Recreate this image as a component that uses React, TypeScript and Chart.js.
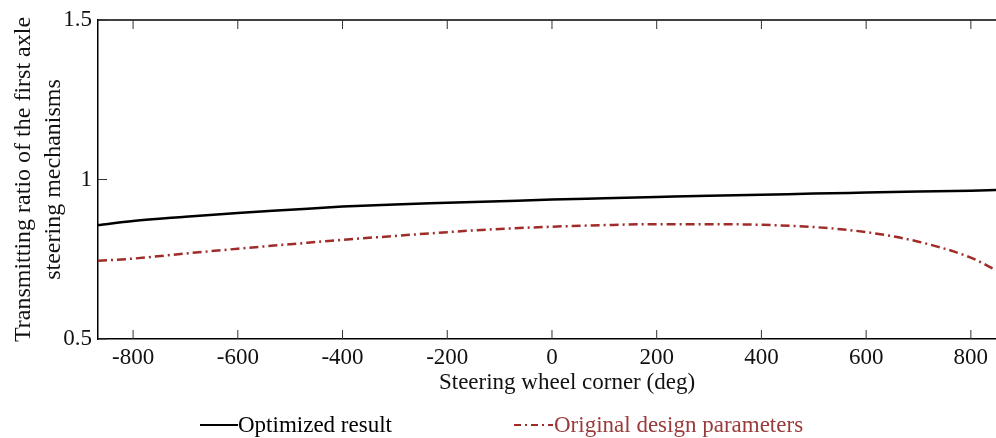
import React, { useEffect, useRef } from "react";
import { Chart, registerables } from "chart.js";

Chart.register(...registerables);

const xValues = [-867, -800, -700, -600, -500, -400, -300, -200, -100, 0, 100, 200, 300, 400, 500, 600, 700, 800, 848];
const optimized = [0.857, 0.87, 0.883, 0.895, 0.905, 0.915, 0.922, 0.927, 0.932, 0.937, 0.941, 0.945, 0.949, 0.952, 0.956, 0.959, 0.962, 0.965, 0.967];
const original = [0.745, 0.752, 0.768, 0.783, 0.797, 0.811, 0.823, 0.835, 0.845, 0.852, 0.857, 0.86, 0.86, 0.858, 0.851, 0.835, 0.805, 0.755, 0.716];
const xTicks = [-800, -600, -400, -200, 0, 200, 400, 600, 800];
const yTicks = [0.5, 1, 1.5];
const legendLabels = ["Optimized result", "Original design parameters"];
const xTitle = "Steering wheel corner (deg)";
const yTitle = ["Transmitting ratio of the first axle", "steering mechanisms"];

const FONT = '"Liberation Serif", "Times New Roman", serif';
const RED = "#a02c2a";

export default function App() {
  const ref = useRef<HTMLCanvasElement | null>(null);
  useEffect(() => {
    const canvas = ref.current!;
    const frame = {
      id: "frame",
      afterDraw(chart: any) {
        const { ctx, chartArea: a, scales } = chart;
        ctx.save();
        ctx.strokeStyle = "#000";
        ctx.lineWidth = 1.5;
        ctx.beginPath();
        ctx.moveTo(a.left, a.top);
        ctx.lineTo(a.right, a.top);
        ctx.stroke();
        ctx.lineWidth = 1;
        ctx.strokeStyle = "#333";
        for (const t of xTicks) {
          const x = scales.x.getPixelForValue(t);
          ctx.beginPath();
          ctx.moveTo(x, a.bottom);
          ctx.lineTo(x, a.bottom - 9);
          ctx.moveTo(x, a.top);
          ctx.lineTo(x, a.top + 9);
          ctx.stroke();
        }
        for (const t of yTicks) {
          const y = scales.y.getPixelForValue(t);
          ctx.beginPath();
          ctx.moveTo(a.left, y);
          ctx.lineTo(a.left + 9, y);
          ctx.stroke();
        }
        // x title
        ctx.font = `23px ${FONT}`;
        ctx.textBaseline = "middle";
        ctx.textAlign = "center";
        ctx.fillStyle = "#111";
        ctx.fillText(xTitle, 567, 383);
        // legend
        const ly = 425;
        ctx.textAlign = "left";
        ctx.strokeStyle = "#000";
        ctx.lineWidth = 2;
        ctx.setLineDash([]);
        ctx.beginPath();
        ctx.moveTo(200, ly);
        ctx.lineTo(238, ly);
        ctx.stroke();
        ctx.fillStyle = "#000";
        ctx.fillText(legendLabels[0], 238, ly + 1);
        ctx.strokeStyle = RED;
        ctx.setLineDash([7, 4, 2, 4]);
        ctx.beginPath();
        ctx.moveTo(514, ly);
        ctx.lineTo(553, ly);
        ctx.stroke();
        ctx.setLineDash([]);
        ctx.fillStyle = "#9a3a3a";
        ctx.fillText(legendLabels[1], 554, ly + 1);
        ctx.restore();
      },
    };
    const chart = new Chart(canvas, {
      type: "line",
      data: {
        datasets: [
          {
            label: legendLabels[0],
            data: xValues.map((x, i) => ({ x, y: optimized[i] })),
            borderColor: "#000",
            borderWidth: 2.5,
            pointRadius: 0,
            tension: 0.4,
            cubicInterpolationMode: "monotone",
          },
          {
            label: legendLabels[1],
            data: xValues.map((x, i) => ({ x, y: original[i] })),
            borderColor: RED,
            borderWidth: 2.5,
            borderDash: [9, 4, 2, 4],
            pointRadius: 0,
            tension: 0.4,
            cubicInterpolationMode: "monotone",
          },
        ],
      },
      options: {
        animation: false,
        responsive: false,
        maintainAspectRatio: false,
        layout: { padding: { top: 20, right: 0, left: 0, bottom: 41 } },
        plugins: { legend: { display: false }, tooltip: { enabled: false } },
        scales: {
          x: {
            type: "linear",
            min: -867,
            max: 848,
            afterBuildTicks: (s: any) => {
              s.ticks = xTicks.map((v) => ({ value: v }));
            },
            afterFit: (s: any) => {
              s.height = 58;
            },
            grid: { drawOnChartArea: false, drawTicks: false },
            border: { display: true, color: "#000", width: 1.5 },
            ticks: { color: "#111", font: { family: FONT, size: 23 }, padding: 5, maxRotation: 0 },
            title: { display: false },
          },
          y: {
            type: "linear",
            min: 0.5,
            max: 1.5,
            afterBuildTicks: (s: any) => {
              s.ticks = yTicks.map((v) => ({ value: v }));
            },
            afterFit: (s: any) => {
              s.width = 98;
            },
            grid: { drawOnChartArea: false, drawTicks: false },
            border: { display: true, color: "#000", width: 1.5 },
            ticks: {
              color: "#111",
              font: { family: FONT, size: 23 },
              padding: 6,
              callback: (v: any) => String(v),
            },
            title: {
              display: true,
              text: yTitle,
              color: "#111",
              font: { family: FONT, size: 24, lineHeight: 1.25 },
              padding: { top: 9, bottom: 0 },
            },
          },
        },
      },
      plugins: [frame],
    } as any);
    return () => chart.destroy();
  }, []);
  return (
    <div style={{ position: "absolute", left: 0, top: 0, width: 996, height: 438, background: "#fff" }}>
      <canvas ref={ref} width={996} height={438} style={{ width: 996, height: 438, display: "block" }} />
    </div>
  );
}
